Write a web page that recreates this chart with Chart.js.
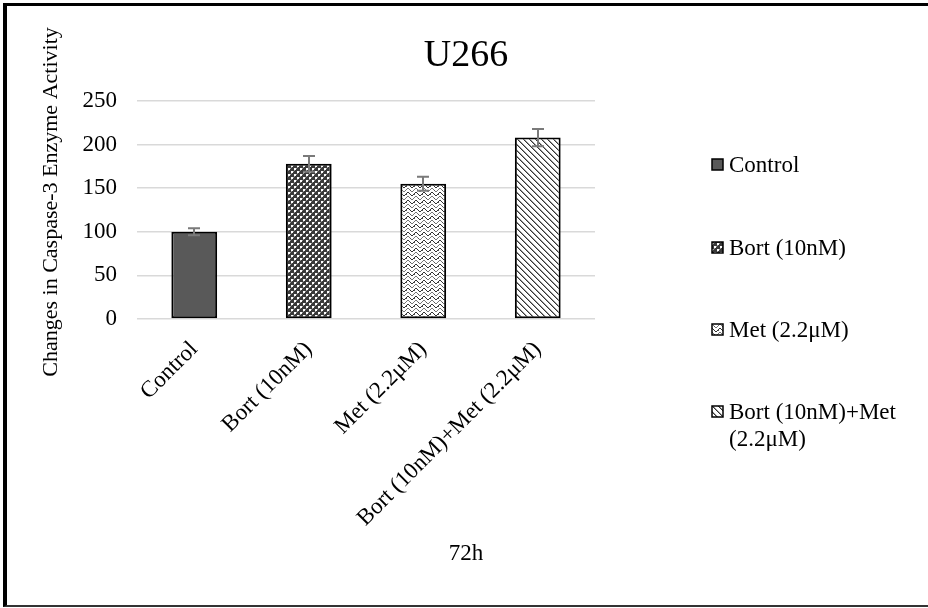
<!DOCTYPE html>
<html>
<head>
<meta charset="utf-8">
<script src="https://cdn.jsdelivr.net/npm/chart.js@4/dist/chart.umd.min.js"></script>
<style>
  html, body { margin: 0; padding: 0; background: #fff; }
  #wrap { position: relative; width: 928px; height: 608px; }
  #frame { position: absolute; left: 3px; top: 3px; width: 925px; height: 604px;
           border-left: 4px solid #000; border-top: 3px solid #000; border-bottom: 2px solid #333;
           box-sizing: border-box; pointer-events: none; }
  canvas { position: absolute; left: 0; top: 0; }
</style>
</head>
<body>
<div id="wrap">
  <canvas id="c" width="928" height="608"></canvas>
  <div id="frame"></div>
</div>
<script>
const chartTitle = 'U266';
const xAxisTitle = '72h';
const yAxisTitle = 'Changes in Caspase-3 Enzyme Activity';
const categories = ['Control', 'Bort (10nM)', 'Met (2.2\u03bcM)', 'Bort (10nM)+Met (2.2\u03bcM)'];
const legendLabels = [['Control'], ['Bort (10nM)'], ['Met (2.2\u03bcM)'], ['Bort (10nM)+Met', '(2.2\u03bcM)']];
const values = [100, 178, 155, 208];
const errors = [4, 9, 8, 10];
const yTicks = [0, 50, 100, 150, 200, 250];

const FONT = '"Liberation Serif", "Times New Roman", serif';
const FS = 23;

function tile(w, h, draw) {
  const c = document.createElement('canvas');
  c.width = w; c.height = h;
  const g = c.getContext('2d');
  draw(g);
  return g.createPattern(c, 'repeat');
}
function px(g, x, y, col) { g.fillStyle = col; g.fillRect(x, y, 1, 1); }

const ctx = document.getElementById('c').getContext('2d');

const patterns = [
  '#595959',
  // small check / cross pattern
  tile(6, 6, g => {
    g.fillStyle = '#3a3a3a'; g.fillRect(0, 0, 6, 6);
    g.fillStyle = '#ffffff';
    g.fillRect(0, 0, 2, 2); g.fillRect(3, 3, 2, 2);
    g.fillStyle = '#9a9a9a';
    g.fillRect(2, 0, 1, 1); g.fillRect(0, 2, 1, 1); g.fillRect(5, 3, 1, 1); g.fillRect(3, 5, 1, 1);
  }),
  // zigzag weave
  tile(8, 8, g => {
    g.fillStyle = '#ffffff'; g.fillRect(0, 0, 8, 8);
    for (let x = 0; x < 8; x++) {
      const y = x < 4 ? x : 7 - x;
      px(g, x, y, '#333');
      px(g, x, (y + 4) % 8, '#777');
    }
    px(g, 2, 6, '#555'); px(g, 6, 2, '#555');
  }),
  // wide downward diagonal
  tile(6, 6, g => {
    g.fillStyle = '#ffffff'; g.fillRect(0, 0, 6, 6);
    for (let i = 0; i < 6; i++) {
      px(g, i, i, '#333');
      px(g, (i + 1) % 6, i, '#999');
    }
  })
];

const errorBars = {
  id: 'errorBars',
  afterDatasetsDraw(chart) {
    const meta = chart.getDatasetMeta(0);
    const ys = chart.scales.y;
    const g = chart.ctx;
    g.save();
    g.strokeStyle = '#7a7a7a';
    g.lineWidth = 2;
    meta.data.forEach((bar, i) => {
      const x = Math.round(bar.x);
      const yt = ys.getPixelForValue(values[i] + errors[i]);
      const yb = ys.getPixelForValue(values[i] - errors[i]);
      g.beginPath();
      g.moveTo(x, yt); g.lineTo(x, yb);
      g.moveTo(x - 6, yt); g.lineTo(x + 6, yt);
      g.moveTo(x - 6, yb); g.lineTo(x + 6, yb);
      g.stroke();
    });
    g.restore();
  }
};

const extras = {
  id: 'extras',
  afterDraw(chart) {
    const g = chart.ctx;
    g.save();
    g.fillStyle = '#000';
    g.textBaseline = 'middle';
    // title
    g.font = '38px ' + FONT;
    g.textAlign = 'center';
    g.fillText(chartTitle, 466, 56);
    // x axis title
    g.font = FS + 'px ' + FONT;
    g.fillText(xAxisTitle, 466, 554);
    // y axis title
    g.save();
    g.font = '22px ' + FONT;
    g.translate(51, 202);
    g.rotate(-Math.PI / 2);
    g.fillText(yAxisTitle, 0, 0);
    g.restore();
    // legend
    g.textAlign = 'left';
    const ys = [165, 248, 330, 412];
    legendLabels.forEach((lines, i) => {
      const y = ys[i];
      g.fillStyle = patterns[i];
      g.fillRect(712, y - 6, 11, 11);
      g.strokeStyle = '#000';
      g.lineWidth = 1.5;
      g.strokeRect(712, y - 6, 11, 11);
      g.fillStyle = '#000';
      lines.forEach((t, j) => g.fillText(t, 729, y + 1 + j * 27));
    });
    g.restore();
  }
};

new Chart(ctx, {
  type: 'bar',
  data: {
    labels: categories,
    datasets: [{
      data: values,
      backgroundColor: patterns,
      borderColor: '#000',
      borderWidth: 2,
      borderSkipped: false,
      barPercentage: 0.4,
      categoryPercentage: 1.0
    }]
  },
  options: {
    responsive: false,
    devicePixelRatio: 1,
    animation: false,
    layout: { padding: { left: 0, right: 333, top: 101, bottom: 18 } },
    plugins: { legend: { display: false }, title: { display: false }, tooltip: { enabled: false } },
    scales: {
      x: {
        grid: { display: false },
        border: { display: false },
        ticks: { color: '#000', font: { family: FONT, size: FS }, maxRotation: 45, minRotation: 45, padding: 9 },
        afterFit(s) { s.height = 271; }
      },
      y: {
        min: 0, max: 250,
        afterBuildTicks(s) { s.ticks = yTicks.map(v => ({ value: v })); },
        grid: { color: '#d9d9d9', lineWidth: 1.5, drawTicks: false },
        border: { display: false },
        ticks: { color: '#000', font: { family: FONT, size: FS }, padding: 20 },
        afterFit(s) { s.width = 137; }
      }
    }
  },
  plugins: [errorBars, extras]
});
</script>
</body>
</html>
